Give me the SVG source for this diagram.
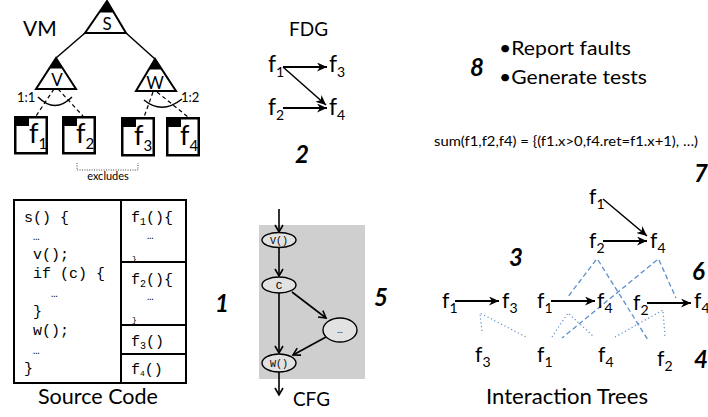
<svg xmlns="http://www.w3.org/2000/svg" width="708" height="417" viewBox="0 0 708 417">
  <style>
    .t { font-family: Lato, "Open Sans", "Liberation Sans", sans-serif; fill: #000; }
    .num { font-family: Lato, "Liberation Sans", sans-serif; font-weight: bold; font-style: italic; font-size: 24px; fill: #000; }
    .mono { font-family: "Liberation Mono", "Courier New", monospace; fill: #000; }
    .tri { fill: #fff; stroke: #000; stroke-width: 2; stroke-linejoin: miter; }
    .box { fill: #fff; stroke: #000; stroke-width: 2.5; }
    .line { stroke: #000; stroke-width: 1.5; fill: none; }
    .dash { stroke: #000; stroke-width: 1.2; stroke-dasharray: 4 3; fill: none; }
    .arr { stroke: #000; stroke-width: 2; fill: none; marker-end: url(#head); }
    .arr-thin { stroke: #000; stroke-width: 1.5; fill: none; marker-end: url(#head); }
    .cfa { stroke: #000; stroke-width: 1.6; fill: none; marker-end: url(#chev); }
    .bdash { stroke: #5b8fcc; stroke-width: 1.3; stroke-dasharray: 5 3; fill: none; }
    .bdot { stroke: #5b8fcc; stroke-width: 1.2; stroke-dasharray: 1.2 2.6; fill: none; }
    .cell { fill: none; stroke: #000; stroke-width: 2; }
    .ell { fill: #e2e2e2; stroke: #000; stroke-width: 1.4; }
  </style>
  <defs>
    <marker id="head" markerUnits="userSpaceOnUse" markerWidth="11" markerHeight="9" refX="10" refY="4.5" orient="auto">
      <path d="M0,0 L10,4.5 L0,9 L3,4.5 Z" fill="#000"/>
    </marker>
    <marker id="chev" markerUnits="userSpaceOnUse" markerWidth="10" markerHeight="10" refX="8" refY="5" orient="auto">
      <path d="M1,1 L8,5 L1,9" fill="none" stroke="#000" stroke-width="1.6"/>
    </marker>
  </defs>

  <!-- variability model -->
  <text class="t" x="23" y="36" font-size="21">VM</text>

  <g id="conn-vm">
    <line class="line" x1="85" y1="33" x2="56" y2="58"/>
    <line class="line" x1="126" y1="33" x2="155" y2="59"/>
    <line class="dash" x1="54" y1="89" x2="36" y2="116"/>
    <line class="dash" x1="58" y1="89" x2="83" y2="116"/>
    <line class="dash" x1="153" y1="92" x2="144" y2="117"/>
    <line class="dash" x1="157" y1="92" x2="188" y2="117"/>
    <path class="line" d="M38,97 Q55,114 72,97" stroke-width="1.3"/>
    <path class="line" d="M144,100 Q162,115 182,99" stroke-width="1.3"/>
    <path d="M77,163 L77,170 L138,170 L138,163" fill="none" stroke="#444" stroke-width="1" stroke-dasharray="1 1.4"/>
  </g>

  <g id="feat-s">
    <polygon class="tri" points="107,1 85,33 126,33"/>
    <polygon points="107,1 99.5,12.5 114.5,12.5" fill="#000"/>
    <text class="t" x="107" y="30" font-size="17" text-anchor="middle">S</text>
  </g>
  <g id="feat-v">
    <polygon class="tri" points="56,58 36,89 76,89"/>
    <polygon points="56,58 49.5,68.5 62.5,68.5" fill="#000"/>
    <text class="t" x="57" y="86" font-size="17" text-anchor="middle">V</text>
  </g>
  <g id="feat-w">
    <polygon class="tri" points="155,59 136,91 176,91"/>
    <polygon points="155,59 148.5,69.5 161.5,69.5" fill="#000"/>
    <text class="t" x="155" y="89" font-size="17" text-anchor="middle">W</text>
  </g>
  <text class="t" x="17" y="102" font-size="13">1:1</text>
  <text class="t" x="181" y="102" font-size="13">1:2</text>

  <g id="feat-f1">
    <rect class="box" x="15.25" y="117.25" width="31.5" height="36"/>
    <rect x="14" y="116" width="15" height="10" fill="#000"/>
    <text class="t" x="29" y="143" font-size="27">f<tspan font-size="15" dy="6">1</tspan></text>
  </g>
  <g id="feat-f2">
    <rect class="box" x="63.25" y="117.25" width="31.5" height="36"/>
    <rect x="62" y="116" width="15" height="10" fill="#000"/>
    <text class="t" x="76" y="143" font-size="27">f<tspan font-size="15" dy="6">2</tspan></text>
  </g>
  <g id="feat-f3">
    <rect class="box" x="122.25" y="118.25" width="31.5" height="37"/>
    <rect x="121" y="117" width="15" height="10" fill="#000"/>
    <text class="t" x="134" y="145" font-size="27">f<tspan font-size="15" dy="6">3</tspan></text>
  </g>
  <g id="feat-f4">
    <rect class="box" x="167.25" y="118.25" width="31.5" height="37"/>
    <rect x="166" y="117" width="15" height="10" fill="#000"/>
    <text class="t" x="180" y="145" font-size="27">f<tspan font-size="15" dy="6">4</tspan></text>
  </g>
  <text class="t" x="108" y="180" font-size="11" text-anchor="middle">excludes</text>

  <!-- source code -->
  <g id="source-code">
    <rect class="cell" x="14" y="200" width="172" height="183"/>
    <line class="cell" x1="121" y1="200" x2="121" y2="383"/>
    <line class="cell" x1="121" y1="262" x2="186" y2="262"/>
    <line class="cell" x1="121" y1="325" x2="186" y2="325"/>
    <line class="cell" x1="121" y1="354" x2="186" y2="354"/>
    <g class="mono" font-size="15">
      <text x="24" y="222" xml:space="preserve">s() {</text>
      <text x="33" y="240" font-size="11">…</text>
      <text x="33" y="259">v();</text>
      <text x="33" y="278" xml:space="preserve">if (c) {</text>
      <text x="51" y="297" font-size="11">…</text>
      <text x="33" y="316">}</text>
      <text x="33" y="335">w();</text>
      <text x="33" y="354" font-size="11">…</text>
      <text x="24" y="373">}</text>

      <text x="131" y="222">f<tspan font-size="10" dy="3">1</tspan><tspan dy="-3">(){</tspan></text>
      <text x="147" y="239" font-size="11">…</text>
      <text x="132" y="261" font-size="8">}</text>
      <text x="131" y="284">f<tspan font-size="10" dy="3">2</tspan><tspan dy="-3">(){</tspan></text>
      <text x="147" y="300" font-size="11">…</text>
      <text x="132" y="322" font-size="8">}</text>
      <text x="131" y="346">f<tspan font-size="10" dy="3">3</tspan><tspan dy="-3">()</tspan></text>
      <text x="131" y="374">f<tspan font-size="8" dy="2">4</tspan><tspan dy="-2">()</tspan></text>
    </g>
  </g>
  <text class="t" x="98" y="404" font-size="21" text-anchor="middle" textLength="120" lengthAdjust="spacingAndGlyphs">Source Code</text>
  <text class="num" x="215" y="312">1</text>

  <!-- feature dependency graph -->
  <text class="t" x="289" y="36" font-size="20" textLength="39" lengthAdjust="spacingAndGlyphs">FDG</text>
  <g id="fdg-f1"><text class="t" x="268" y="72" font-size="23">f<tspan font-size="14" dy="5">1</tspan></text></g>
  <g id="fdg-f3"><text class="t" x="329" y="72" font-size="23">f<tspan font-size="14" dy="5">3</tspan></text></g>
  <g id="fdg-f2"><text class="t" x="268" y="115" font-size="23">f<tspan font-size="14" dy="5">2</tspan></text></g>
  <g id="fdg-f4"><text class="t" x="329" y="115" font-size="23">f<tspan font-size="14" dy="5">4</tspan></text></g>
  <g id="conn-fdg">
    <line class="arr" x1="283" y1="67" x2="327" y2="67"/>
    <line class="arr-thin" x1="283" y1="67" x2="326" y2="105"/>
    <line class="arr" x1="283" y1="108" x2="327" y2="108"/>
  </g>
  <text class="num" x="295" y="163">2</text>

  <!-- control flow graph -->
  <rect x="259" y="225" width="106" height="154" fill="#cfcfcf"/>
  <g id="conn-cfg">
    <line class="cfa" x1="279" y1="209" x2="279" y2="232"/>
    <line class="cfa" x1="279" y1="247" x2="279" y2="276"/>
    <line class="cfa" x1="279" y1="293" x2="279" y2="353"/>
    <line class="cfa" x1="292" y1="292" x2="326" y2="318"/>
    <line class="cfa" x1="326" y1="337" x2="293" y2="355"/>
    <line class="cfa" x1="279" y1="372" x2="279" y2="395"/>
  </g>
  <g id="cfg-v">
    <ellipse class="ell" cx="279" cy="240" rx="17" ry="7.5"/>
    <text class="mono" x="279" y="243.5" font-size="10" text-anchor="middle">V()</text>
  </g>
  <g id="cfg-c">
    <ellipse class="ell" cx="279" cy="285" rx="17" ry="8"/>
    <text class="mono" x="279" y="289" font-size="11" text-anchor="middle">C</text>
  </g>
  <g id="cfg-dots">
    <ellipse class="ell" cx="340" cy="330" rx="17" ry="12"/>
    <text class="mono" x="340" y="333" font-size="9" text-anchor="middle">…</text>
  </g>
  <g id="cfg-w">
    <ellipse class="ell" cx="279" cy="363" rx="17" ry="9"/>
    <text class="mono" x="279" y="366.5" font-size="10" text-anchor="middle">W()</text>
  </g>
  <text class="t" x="293" y="406" font-size="20" textLength="37" lengthAdjust="spacingAndGlyphs">CFG</text>
  <text class="num" x="374" y="306">5</text>

  <!-- reporting -->
  <text class="num" x="470" y="76">8</text>
  <text class="t" x="499" y="55" font-size="20" textLength="132" lengthAdjust="spacingAndGlyphs">•Report faults</text>
  <text class="t" x="499" y="84" font-size="20" textLength="148" lengthAdjust="spacingAndGlyphs">•Generate tests</text>
  <text class="t" x="434" y="146" font-size="13" textLength="264" lengthAdjust="spacingAndGlyphs">sum(f1,f2,f4) = {(f1.x&gt;0,f4.ret=f1.x+1), …)</text>
  <text class="num" x="694" y="182">7</text>

  <!-- interaction trees -->
  <g id="conn-trees">
    <line class="bdash" x1="596" y1="260" x2="567" y2="298"/>
    <line class="bdash" x1="598" y1="260" x2="648" y2="340"/>
    <line class="bdash" x1="657" y1="260" x2="562" y2="338"/>
    <line class="bdash" x1="659" y1="260" x2="676" y2="298"/>
    <path class="bdot" d="M482,331 L480,313 L528,338"/>
    <path class="bdot" d="M552,337 L568,313 L593,336"/>
    <path class="bdot" d="M615,337 L663,310 L665,337"/>
    <line class="arr-thin" x1="603" y1="199" x2="647" y2="236"/>
    <line class="arr" x1="603" y1="241" x2="647" y2="241"/>
    <line class="arr" x1="455" y1="301" x2="499" y2="301"/>
    <line class="arr" x1="551" y1="301" x2="595" y2="301"/>
    <line class="arr" x1="647" y1="303" x2="691" y2="303"/>
  </g>
  <g id="it-top-f1"><text class="t" x="589" y="204" font-size="21">f<tspan font-size="14" dy="5">1</tspan></text></g>
  <g id="it-top-f2"><text class="t" x="589" y="248" font-size="21">f<tspan font-size="14" dy="5">2</tspan></text></g>
  <g id="it-top-f4"><text class="t" x="650" y="248" font-size="21">f<tspan font-size="14" dy="5">4</tspan></text></g>
  <g id="it-mid-f1a"><text class="t" x="442" y="308" font-size="21">f<tspan font-size="14" dy="5">1</tspan></text></g>
  <g id="it-mid-f3"><text class="t" x="502" y="308" font-size="21">f<tspan font-size="14" dy="5">3</tspan></text></g>
  <g id="it-mid-f1b"><text class="t" x="537" y="308" font-size="21">f<tspan font-size="14" dy="5">1</tspan></text></g>
  <g id="it-mid-f4a"><text class="t" x="597" y="308" font-size="21">f<tspan font-size="14" dy="5">4</tspan></text></g>
  <g id="it-mid-f2"><text class="t" x="633" y="310" font-size="21">f<tspan font-size="14" dy="5">2</tspan></text></g>
  <g id="it-mid-f4b"><text class="t" x="694" y="308" font-size="21">f<tspan font-size="14" dy="5">4</tspan></text></g>
  <g id="it-bot-f3"><text class="t" x="475" y="362" font-size="21">f<tspan font-size="14" dy="5">3</tspan></text></g>
  <g id="it-bot-f1"><text class="t" x="537" y="362" font-size="21">f<tspan font-size="14" dy="5">1</tspan></text></g>
  <g id="it-bot-f4"><text class="t" x="598" y="362" font-size="21">f<tspan font-size="14" dy="5">4</tspan></text></g>
  <g id="it-bot-f2"><text class="t" x="657" y="366" font-size="21">f<tspan font-size="14" dy="5">2</tspan></text></g>
  <text class="num" x="509" y="266">3</text>
  <text class="num" x="692" y="280">6</text>
  <text class="num" x="694" y="368">4</text>
  <text class="t" x="486" y="404" font-size="21" textLength="162" lengthAdjust="spacingAndGlyphs">Interaction Trees</text>
</svg>
